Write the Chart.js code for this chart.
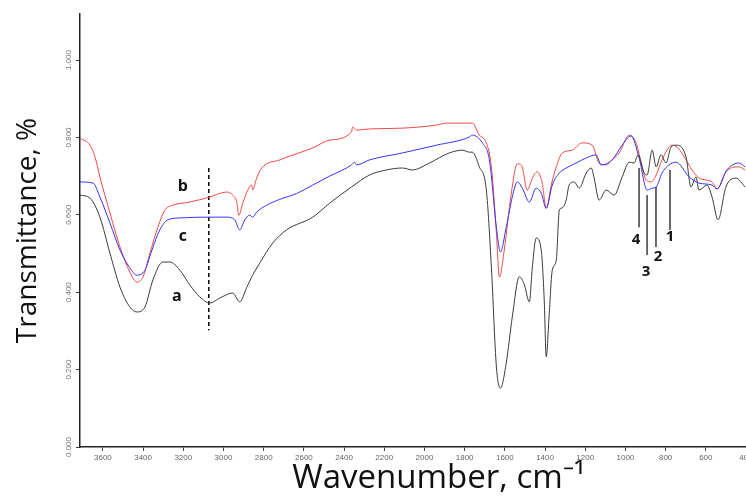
<!DOCTYPE html>
<html>
<head>
<meta charset="utf-8">
<script src="https://cdn.jsdelivr.net/npm/chart.js@4"></script>
<style>
  body { margin: 0; background: #fff; }
  #wrap { width: 746px; height: 497px; }
</style>
</head>
<body>
<div id="wrap"><canvas id="ftir" width="746" height="497"></canvas></div>
<script>
// FTIR spectra a, b, c

// tick values shown on the axes
const xTicks = [3600, 3400, 3200, 3000, 2800, 2600, 2400, 2200, 2000, 1800, 1600, 1400, 1200, 1000, 800, 600, 400];
const yTicks = [0, 0.2, 0.4, 0.6, 0.8, 1.0];

// curve a (black)
const wnA = [3714, 3664, 3615, 3565, 3515, 3466, 3431, 3391, 3351, 3302, 3267, 3217, 3168, 3118, 3068, 3018, 2954, 2919, 2884, 2860, 2855, 2820, 2755, 2686, 2556, 2472, 2363, 2273, 2189, 2109, 2060, 1975, 1876, 1811, 1777, 1762, 1727, 1692, 1667, 1642, 1622, 1593, 1563, 1528, 1503, 1478, 1463, 1444, 1419, 1404, 1394, 1379, 1364, 1344, 1329, 1314, 1295, 1280, 1255, 1230, 1195, 1170, 1156, 1131, 1096, 1056, 1016, 981, 957, 937, 907, 892, 867, 847, 823, 798, 773, 748, 698, 674, 649, 634, 594, 569, 539, 500, 450, 405];
const tA = [0.651, 0.643, 0.594, 0.501, 0.413, 0.362, 0.349, 0.362, 0.432, 0.478, 0.478, 0.457, 0.419, 0.388, 0.372, 0.385, 0.398, 0.375, 0.413, 0.439, 0.444, 0.475, 0.527, 0.561, 0.594, 0.630, 0.672, 0.703, 0.716, 0.721, 0.716, 0.734, 0.760, 0.767, 0.762, 0.762, 0.724, 0.664, 0.465, 0.207, 0.152, 0.217, 0.336, 0.440, 0.419, 0.375, 0.465, 0.540, 0.509, 0.380, 0.233, 0.346, 0.457, 0.483, 0.612, 0.618, 0.638, 0.677, 0.685, 0.669, 0.708, 0.721, 0.696, 0.638, 0.664, 0.651, 0.698, 0.736, 0.734, 0.755, 0.708, 0.703, 0.767, 0.724, 0.755, 0.734, 0.775, 0.780, 0.749, 0.672, 0.698, 0.664, 0.677, 0.646, 0.587, 0.672, 0.695, 0.672];

// curve b (red)
const wnB = [3714, 3664, 3639, 3615, 3565, 3515, 3466, 3431, 3401, 3366, 3331, 3292, 3252, 3168, 3068, 2984, 2954, 2934, 2924, 2904, 2879, 2860, 2855, 2835, 2810, 2720, 2556, 2472, 2363, 2358, 2338, 2273, 2109, 1940, 1891, 1777, 1762, 1727, 1692, 1667, 1642, 1627, 1603, 1568, 1538, 1518, 1488, 1463, 1439, 1414, 1394, 1369, 1344, 1314, 1265, 1215, 1165, 1131, 1096, 1066, 1031, 981, 947, 922, 897, 872, 847, 818, 768, 743, 698, 669, 634, 599, 569, 544, 500, 435, 405];
const tB = [0.798, 0.780, 0.749, 0.698, 0.605, 0.517, 0.452, 0.426, 0.439, 0.501, 0.561, 0.612, 0.625, 0.633, 0.646, 0.659, 0.651, 0.633, 0.599, 0.630, 0.664, 0.677, 0.664, 0.695, 0.721, 0.742, 0.773, 0.793, 0.814, 0.827, 0.819, 0.822, 0.824, 0.832, 0.837, 0.837, 0.837, 0.806, 0.786, 0.724, 0.553, 0.439, 0.509, 0.655, 0.732, 0.729, 0.664, 0.695, 0.711, 0.682, 0.617, 0.677, 0.724, 0.760, 0.767, 0.786, 0.780, 0.734, 0.729, 0.742, 0.760, 0.806, 0.786, 0.736, 0.690, 0.685, 0.703, 0.742, 0.780, 0.775, 0.742, 0.716, 0.695, 0.690, 0.685, 0.667, 0.711, 0.724, 0.716];

// curve c (blue)
const wnC = [3714, 3649, 3615, 3565, 3515, 3466, 3431, 3391, 3356, 3317, 3277, 3217, 3053, 2984, 2944, 2919, 2894, 2869, 2855, 2835, 2785, 2720, 2636, 2556, 2472, 2363, 2348, 2338, 2273, 2109, 1940, 1777, 1762, 1712, 1677, 1642, 1622, 1593, 1563, 1538, 1513, 1478, 1444, 1419, 1394, 1364, 1329, 1295, 1245, 1195, 1146, 1121, 1066, 1016, 972, 932, 892, 867, 847, 818, 783, 748, 683, 634, 569, 544, 495, 435, 405];
const tC = [0.685, 0.682, 0.646, 0.579, 0.509, 0.463, 0.444, 0.457, 0.509, 0.561, 0.587, 0.592, 0.594, 0.594, 0.587, 0.561, 0.587, 0.599, 0.594, 0.607, 0.625, 0.640, 0.655, 0.677, 0.700, 0.729, 0.736, 0.729, 0.742, 0.760, 0.780, 0.801, 0.806, 0.786, 0.742, 0.568, 0.504, 0.568, 0.646, 0.685, 0.669, 0.633, 0.669, 0.656, 0.617, 0.677, 0.708, 0.721, 0.734, 0.747, 0.755, 0.729, 0.742, 0.780, 0.804, 0.747, 0.664, 0.669, 0.672, 0.708, 0.729, 0.736, 0.698, 0.682, 0.677, 0.667, 0.716, 0.734, 0.724];

// marker lines: dashed one at ~3070 and the four peak lines
const dashWn = 3073;
const dashT = [0.721, 0.302];
const peakNames = ['1', '2', '3', '4'];
const peakWn = [778, 848, 892, 932];
const peakTop = [0.716, 0.672, 0.651, 0.721];
const peakBottom = [0.561, 0.517, 0.496, 0.568];

// text labels on the plot
const curveNames = ['a', 'b', 'c'];
const curveLabelWn = [3232, 3202, 3202];
const curveLabelT = [0.388, 0.674, 0.545];
const peakLabelWn = [778, 838, 897, 947];
const peakLabelT = [0.543, 0.491, 0.452, 0.535];

function toPoints(xs, ys) {
  return xs.map((x, i) => ({ x: x, y: ys[i] }));
}

function curve(label, xs, ys, color) {
  return {
    label: label,
    data: toPoints(xs, ys),
    borderColor: color,
    borderWidth: 1,
    pointRadius: 0,
    tension: 0.3,
    cubicInterpolationMode: 'monotone',
    fill: false
  };
}

const datasets = [
  curve('a', wnA, tA, '#3a3a3a'),
  curve('c', wnC, tC, '#3434f0'),
  curve('b', wnB, tB, '#f04848'),
  {
    label: 'dash',
    data: [{ x: dashWn, y: dashT[0] }, { x: dashWn, y: dashT[1] }],
    borderColor: '#000',
    borderWidth: 1.5,
    borderDash: [4, 3],
    pointRadius: 0
  }
];
peakNames.forEach((n, i) => {
  datasets.push({
    label: 'peak ' + n,
    data: [{ x: peakWn[i], y: peakTop[i] }, { x: peakWn[i], y: peakBottom[i] }],
    borderColor: '#555',
    borderWidth: 1,
    pointRadius: 0
  });
});

// draws the a/b/c and 1-4 labels at data positions
const labelPlugin = {
  id: 'plotLabels',
  afterDatasetsDraw(chart) {
    const ctx = chart.ctx;
    const xs = chart.scales.x, ys = chart.scales.y;
    ctx.save();
    ctx.fillStyle = '#111';
    ctx.textAlign = 'center';
    ctx.textBaseline = 'middle';
    ctx.font = 'bold 16px "Open Sans", sans-serif';
    curveNames.forEach((n, i) => {
      ctx.fillText(n, xs.getPixelForValue(curveLabelWn[i]), ys.getPixelForValue(curveLabelT[i]));
    });
    ctx.font = 'bold 15px "Open Sans", sans-serif';
    peakNames.forEach((n, i) => {
      ctx.fillText(n, xs.getPixelForValue(peakLabelWn[i]), ys.getPixelForValue(peakLabelT[i]));
    });
    ctx.restore();
  }
};

new Chart(document.getElementById('ftir').getContext('2d'), {
  type: 'line',
  data: { datasets: datasets },
  options: {
    responsive: false,
    animation: false,
    layout: { padding: { top: 14, right: 0, left: 0, bottom: 0 } },
    plugins: {
      legend: { display: false },
      tooltip: { enabled: false }
    },
    scales: {
      x: {
        type: 'linear',
        reverse: true,
        min: 400,
        max: 3714,
        afterBuildTicks: (s) => { s.ticks = xTicks.map(v => ({ value: v })); },
        afterFit: (s) => { s.height = 50; s.paddingLeft = 0; s.paddingRight = 0; },
        grid: { drawOnChartArea: false, drawTicks: true, tickLength: 4, color: '#444' },
        border: { display: true, color: '#222', width: 1.5 },
        ticks: {
          color: '#666',
          padding: 2,
          maxRotation: 0,
          autoSkip: false,
          font: { family: 'Liberation Sans', size: 8 },
          callback: (v) => String(v)
        },
        title: {
          display: true,
          text: '\u00A0\u00A0\u00A0\u00A0\u00A0\u00A0Wavenumber, cm\u207B\u00B9',
          color: '#111',
          font: { family: 'Open Sans', size: 33 },
          padding: { top: 0, bottom: -1 }
        }
      },
      y: {
        type: 'linear',
        min: 0,
        max: 1.119,
        afterBuildTicks: (s) => { s.ticks = yTicks.map(v => ({ value: v })); },
        afterFit: (s) => { s.width = 80; s.paddingTop = 0; s.paddingBottom = 0; },
        grid: { drawOnChartArea: false, drawTicks: true, tickLength: 4, color: '#444' },
        border: { display: true, color: '#222', width: 1.5 },
        ticks: {
          color: '#777',
          padding: -3,
          minRotation: 90,
          maxRotation: 90,
          crossAlign: 'center',
          font: { family: 'Liberation Sans', size: 8 },
          callback: (v) => v.toFixed(3)
        },
        title: {
          display: true,
          text: 'Transmittance, %',
          color: '#111',
          font: { family: 'Open Sans', size: 28 },
          padding: { top: 11, bottom: 0 }
        }
      }
    }
  },
  plugins: [labelPlugin]
});
</script>
</body>
</html>
